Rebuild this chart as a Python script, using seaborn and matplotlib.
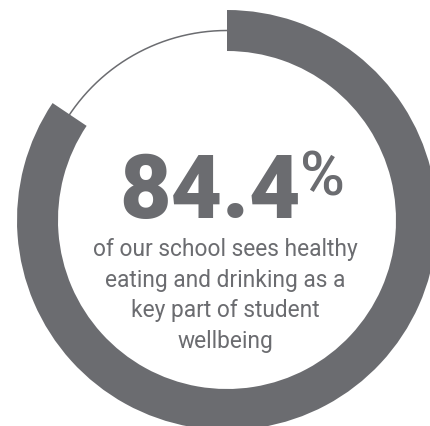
import matplotlib
matplotlib.use("Agg")
import matplotlib.pyplot as plt
import seaborn as sns
import numpy as np

# --- Data ---
share = [84.4, 15.6]                 # percent agreeing / rest
big_number = "84.4"
caption = ["of our school sees healthy",
           "eating and drinking as a",
           "key part of student",
           "wellbeing"]

grey = "#6b6c70"

sns.set_style("white")
plt.rcParams['font.family'] = ['Roboto', 'DejaVu Sans']

fig = plt.figure(figsize=(4.30, 4.27), dpi=100)
ax = fig.add_axes([0, 0, 1, 1])

# --- Ring: thick arc for the share, thin line for the rest ---
outer_r = 210
ring_w = 41
ax.pie(share, radius=outer_r, startangle=90, counterclock=False,
       colors=[grey, "none"], wedgeprops=dict(width=ring_w, linewidth=0))

rest_deg = share[1] / sum(share) * 360
theta = np.radians(np.linspace(90, 90 + rest_deg, 200))
mid_r = outer_r - ring_w / 2
ax.plot(mid_r * np.cos(theta), mid_r * np.sin(theta), color=grey, lw=1.1)

# --- Centre text ---
ax.text(74, 3, big_number, ha='right', va='baseline', fontsize=64,
        fontweight='black', color=grey)
ax.text(73, 25, "%", ha='left', va='baseline', fontsize=44,
        fontweight='medium', color=grey)
ax.text(-2, -17, "\n".join(caption), ha='center', va='top', fontsize=16.4,
        fontweight='normal', color=grey, linespacing=1.42)

ax.set_xlim(-227, 430 - 227)
ax.set_ylim(221 - 427, 221)
ax.set_aspect('equal')
ax.axis('off')

plt.savefig("out.png", dpi=100)
